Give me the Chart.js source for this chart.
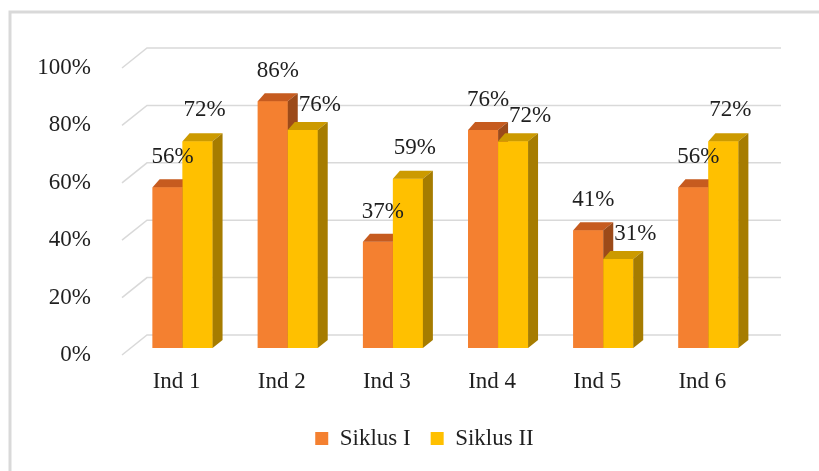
<!doctype html>
<html lang="id">
<head>
<meta charset="utf-8">
<title>Siklus I dan Siklus II</title>
<script src="https://cdn.jsdelivr.net/npm/chart.js"></script>
<style>
  body { margin: 0; background: #fff; }
  #wrap { width: 819px; height: 471px; }
</style>
</head>
<body>
<div id="wrap"><canvas id="barChart"></canvas></div>
<script>
  let categories = ['Ind 1', 'Ind 2', 'Ind 3', 'Ind 4', 'Ind 5', 'Ind 6'];
  let siklus1 = [56, 86, 37, 76, 41, 56];
  let siklus2 = [72, 76, 59, 72, 31, 72];
  let yTicks = [0, 20, 40, 60, 80, 100];

  let FONT = '"Liberation Serif", serif';
  let TEXT = '#1f1f1f';
  let GRID = '#d9d9d9';
  let faces = [
    { front: '#f48030', top: '#c65b1f', side: '#9c4a19' },
    { front: '#ffc000', top: '#cc9a00', side: '#a67c00' }
  ];

  // fake excel 3d: how far the top / side faces lean back
  let DXL = 7, DXR = 10, DY = 8;

  let frame3d = {
    id: 'frame3d',
    afterLayout(chart) {
      // excel centres the legend under the whole frame, not the plot
      chart.legend.left += 44;
      chart.legend.right += 44;
    },
    beforeDraw(chart) {
      let ctx = chart.ctx;
      ctx.save();
      ctx.fillStyle = '#fff';
      ctx.fillRect(0, 0, chart.width, chart.height);
      ctx.strokeStyle = '#d9d9d9';
      ctx.lineWidth = 3;
      ctx.strokeRect(10, 12, chart.width + 20, chart.height + 20);
      ctx.restore();
    },
    beforeDatasetsDraw(chart) {
      let ctx = chart.ctx, y = chart.scales.y, area = chart.chartArea;
      ctx.save();
      ctx.strokeStyle = GRID;
      ctx.lineWidth = 1.5;
      yTicks.forEach(function(t) {
        let py = y.getPixelForValue(t);
        ctx.beginPath();
        ctx.moveTo(area.left - 8, py + 7);
        ctx.lineTo(area.left + 17, py - 13);
        ctx.lineTo(area.right + 20, py - 13);
        ctx.stroke();
      });
      ctx.restore();
    },
    afterDatasetsDraw(chart) {
      let ctx = chart.ctx;
      ctx.save();
      for (let i = 0; i < categories.length; i++) {
        for (let d = 0; d < 2; d++) {
          let bar = chart.getDatasetMeta(d).data[i].getProps(['x', 'y', 'base', 'width'], true);
          let l = bar.x - bar.width / 2, r = bar.x + bar.width / 2, t = bar.y, b = bar.base;
          let c = faces[d];
          ctx.fillStyle = c.front;
          ctx.fillRect(l, t, r - l, b - t);
          ctx.fillStyle = c.top;
          ctx.beginPath();
          ctx.moveTo(l, t); ctx.lineTo(r, t); ctx.lineTo(r + DXR, t - DY); ctx.lineTo(l + DXL, t - DY);
          ctx.closePath(); ctx.fill();
          ctx.fillStyle = c.side;
          ctx.beginPath();
          ctx.moveTo(r, t); ctx.lineTo(r + DXR, t - DY); ctx.lineTo(r + DXR, b - DY); ctx.lineTo(r, b);
          ctx.closePath(); ctx.fill();
        }
      }
      // value labels, pushed aside when the second bar sits under the first
      ctx.font = '23px ' + FONT;
      ctx.fillStyle = TEXT;
      ctx.textAlign = 'center';
      ctx.textBaseline = 'middle';
      for (let d = 0; d < 2; d++) {
        let vals = chart.data.datasets[d].data;
        chart.getDatasetMeta(d).data.forEach(function(el, i) {
          let dx = 5, dy = 30;
          if (d === 1) {
            if (siklus2[i] < siklus1[i]) { dx = 17; dy = 25; } else { dx = 7; dy = 31; }
          }
          ctx.fillText(vals[i] + '%', el.x + dx, el.y - dy);
        });
      }
      ctx.restore();
    }
  };

  let ctx = document.getElementById('barChart').getContext('2d');
  window.myBar = new Chart(ctx, {
    type: 'bar',
    data: {
      labels: categories,
      datasets: [{
        label: 'Siklus I',
        data: siklus1,
        backgroundColor: faces[0].front,
        borderWidth: 0
      }, {
        label: 'Siklus II',
        data: siklus2,
        backgroundColor: faces[1].front,
        borderWidth: 0
      }]
    },
    options: {
      responsive: true,
      maintainAspectRatio: false,
      animation: false,
      layout: { padding: { top: 61, right: 58, bottom: 11, left: 0 } },
      datasets: { bar: { categoryPercentage: 0.57, barPercentage: 1 } },
      scales: {
        x: {
          grid: { display: false },
          border: { display: false },
          ticks: { color: TEXT, font: { family: FONT, size: 23 }, labelOffset: -6, padding: 12 },
          afterFit(scale) { scale.height = 59; }
        },
        y: {
          min: 0,
          max: 100,
          grid: { display: false },
          border: { display: false },
          ticks: {
            stepSize: 20,
            color: TEXT,
            font: { family: FONT, size: 23 },
            padding: 31,
            labelOffset: 7,
            callback: function(v) { return v + '%'; }
          },
          afterFit(scale) { scale.width = 130; }
        }
      },
      plugins: {
        legend: {
          position: 'bottom',
          labels: {
            color: TEXT,
            font: { family: FONT, size: 23 },
            boxWidth: 13,
            boxHeight: 13,
            padding: 20
          }
        },
        tooltip: { enabled: false }
      }
    },
    plugins: [frame3d]
  });
</script>
</body>
</html>
